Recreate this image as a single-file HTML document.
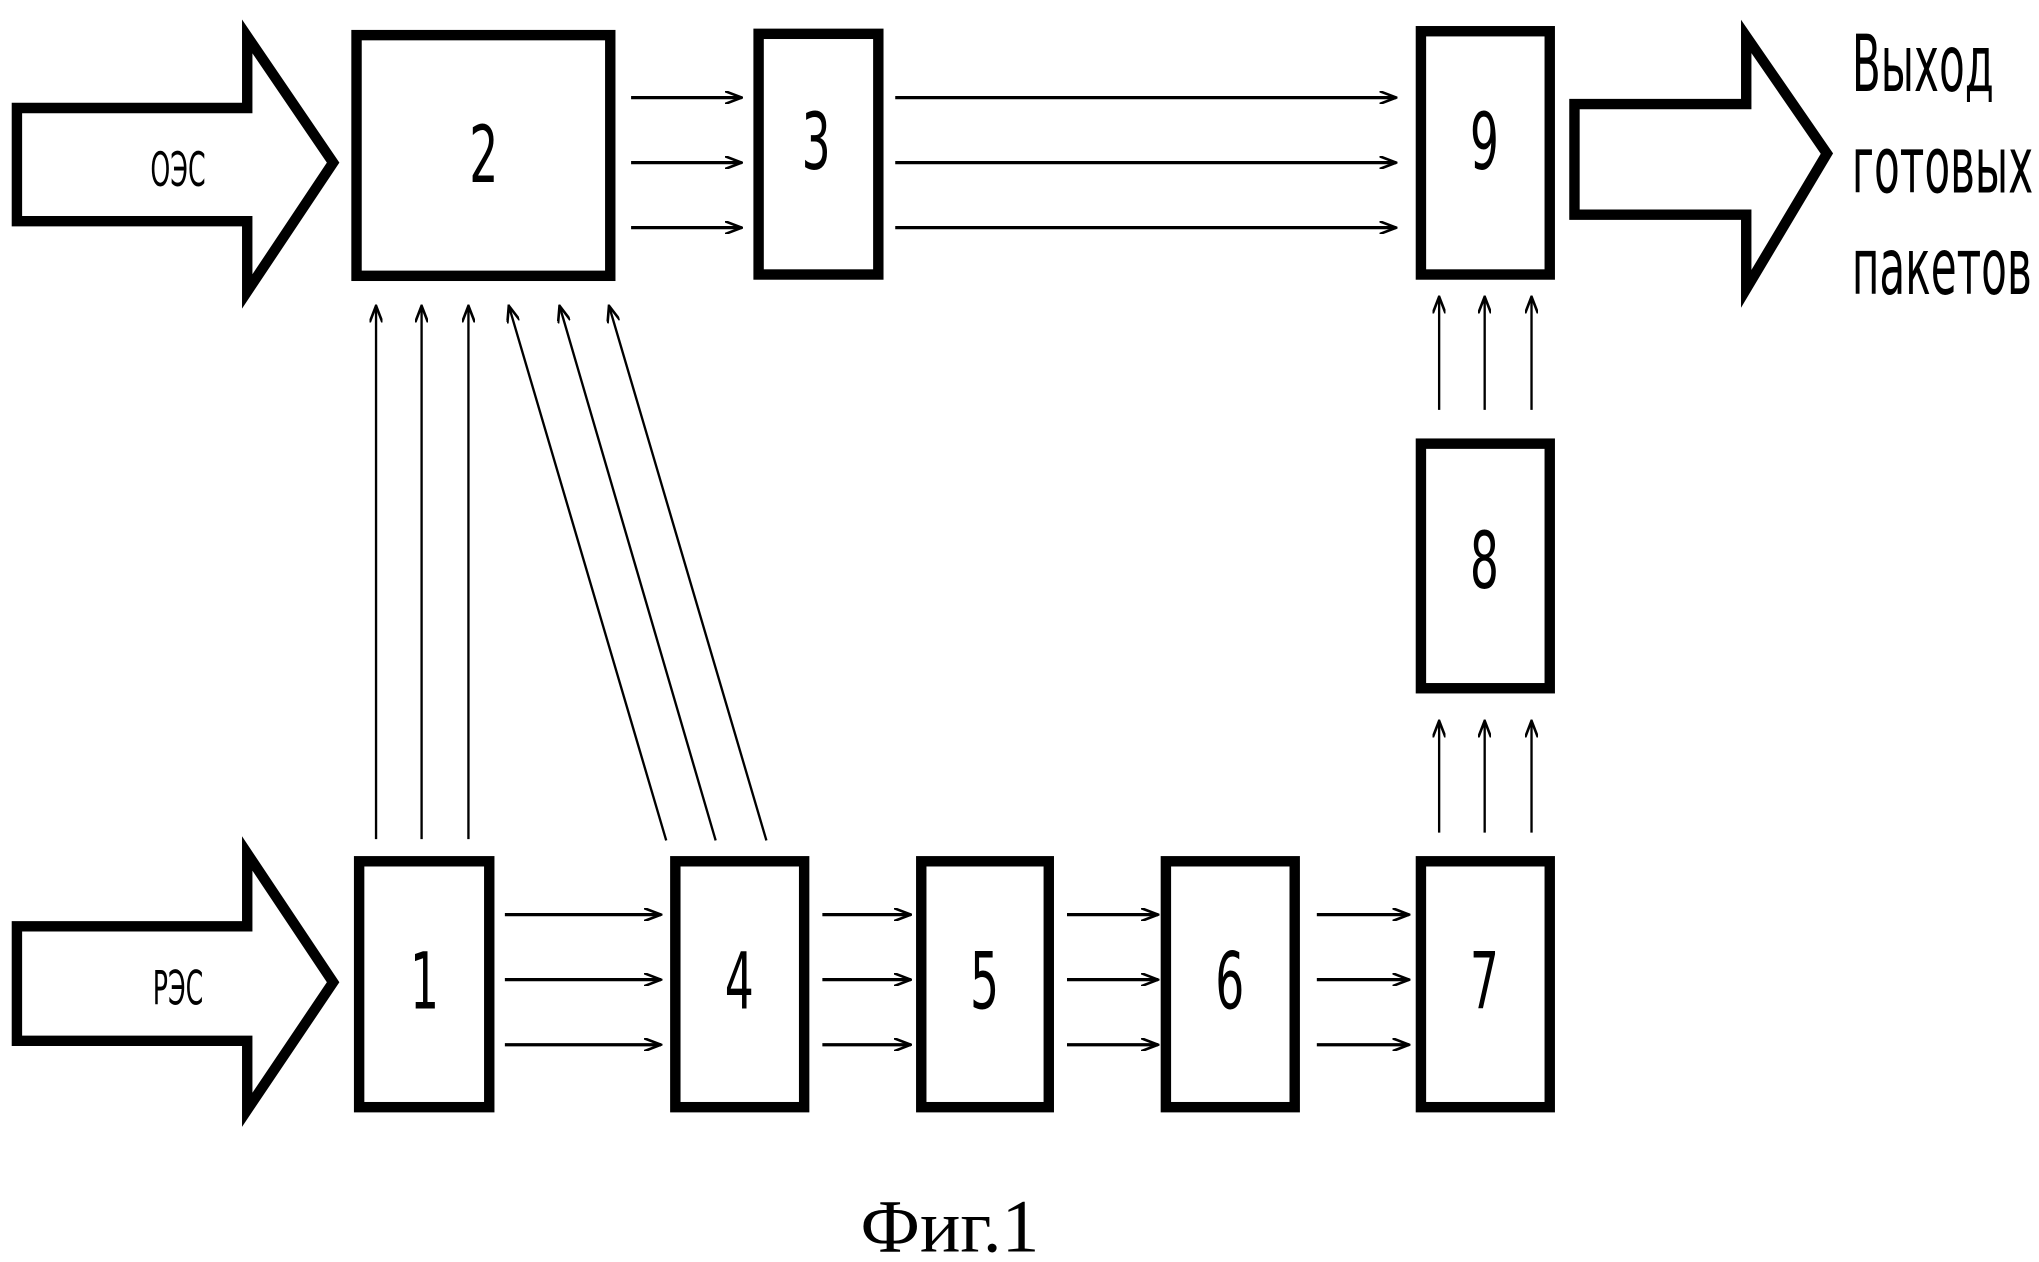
<!DOCTYPE html>
<html><head><meta charset="utf-8"><style>html,body{margin:0;padding:0;background:#fff}svg{display:block}</style></head>
<body>
<svg width="2039" height="1262" viewBox="0 0 1567 970" preserveAspectRatio="none" xmlns="http://www.w3.org/2000/svg">
<defs><marker id="a" markerWidth="14" markerHeight="10" refX="13" refY="5" orient="auto" markerUnits="userSpaceOnUse"><path d="M0,0 L13,5 L0,10" fill="none" stroke="#000" stroke-width="2"/></marker></defs>
<g fill="none" stroke="#000" stroke-width="8" stroke-linejoin="miter">
<path d="M13,83 H190 V28 L256,125 L190,224 V170 H13 Z"/>
<path d="M13,712 H190 V656 L256,755 L190,853 V800 H13 Z"/>
<path d="M1210,80 H1342 V28 L1404,118 L1342,222 V165 H1210 Z"/>
<rect x="274" y="27" width="195" height="185"/>
<rect x="583" y="26" width="92" height="185"/>
<rect x="1092" y="24" width="99" height="187"/>
<rect x="1092" y="341" width="99" height="188"/>
<rect x="276" y="662" width="100" height="189"/>
<rect x="519" y="662" width="99" height="189"/>
<rect x="708" y="662" width="98" height="189"/>
<rect x="896" y="662" width="99" height="189"/>
<rect x="1092" y="662" width="99" height="189"/>
</g>
<g stroke="#000" stroke-width="2.5" marker-end="url(#a)">
<line x1="485" y1="75" x2="570" y2="75"/><line x1="485" y1="125" x2="570" y2="125"/><line x1="485" y1="175" x2="570" y2="175"/>
<line x1="688" y1="75" x2="1073" y2="75"/><line x1="688" y1="125" x2="1073" y2="125"/><line x1="688" y1="175" x2="1073" y2="175"/>
<line x1="388" y1="703" x2="508" y2="703"/><line x1="388" y1="753" x2="508" y2="753"/><line x1="388" y1="803" x2="508" y2="803"/>
<line x1="632" y1="703" x2="700" y2="703"/><line x1="632" y1="753" x2="700" y2="753"/><line x1="632" y1="803" x2="700" y2="803"/>
<line x1="820" y1="703" x2="890" y2="703"/><line x1="820" y1="753" x2="890" y2="753"/><line x1="820" y1="803" x2="890" y2="803"/>
<line x1="1012" y1="703" x2="1083" y2="703"/><line x1="1012" y1="753" x2="1083" y2="753"/><line x1="1012" y1="803" x2="1083" y2="803"/>
</g>
<g stroke="#000" stroke-width="1.8" marker-end="url(#a)">
<line x1="289" y1="645" x2="289" y2="235"/><line x1="324" y1="645" x2="324" y2="235"/><line x1="360" y1="645" x2="360" y2="235"/>
<line x1="512" y1="646" x2="391" y2="235"/><line x1="550" y1="646" x2="430" y2="235"/><line x1="589" y1="646" x2="468" y2="235"/>
<line x1="1106" y1="640" x2="1106" y2="554"/><line x1="1141" y1="640" x2="1141" y2="554"/><line x1="1177" y1="640" x2="1177" y2="554"/>
<line x1="1106" y1="315" x2="1106" y2="228"/><line x1="1141" y1="315" x2="1141" y2="228"/><line x1="1177" y1="315" x2="1177" y2="228"/>
</g>
<g font-family="'DejaVu Sans Condensed','Liberation Sans Narrow','Liberation Sans',sans-serif" text-anchor="middle" fill="#000">
<g font-size="60" transform="scale(0.65,1)">
<text x="572" y="140">2</text><text x="965" y="130">3</text><text x="1755" y="130">9</text>
<text x="1755" y="452">8</text><text x="502" y="775">1</text><text x="874" y="775">4</text>
<text x="1164" y="775">5</text><text x="1454" y="775">6</text><text x="1755" y="775">7</text>
</g>
<g font-size="36" transform="scale(0.6,1)">
<text x="228" y="143">ОЭС</text><text x="228" y="772">РЭС</text>
</g>
<g font-size="60" text-anchor="start" transform="scale(0.6,1)">
<text x="2372" y="70">Выход</text><text x="2372" y="148">готовых</text><text x="2372" y="226">пакетов</text>
</g>
</g>
<text x="730" y="962" font-family="'Liberation Serif',serif" font-size="58" text-anchor="middle">Фиг.1</text>
</svg>
</body></html>
